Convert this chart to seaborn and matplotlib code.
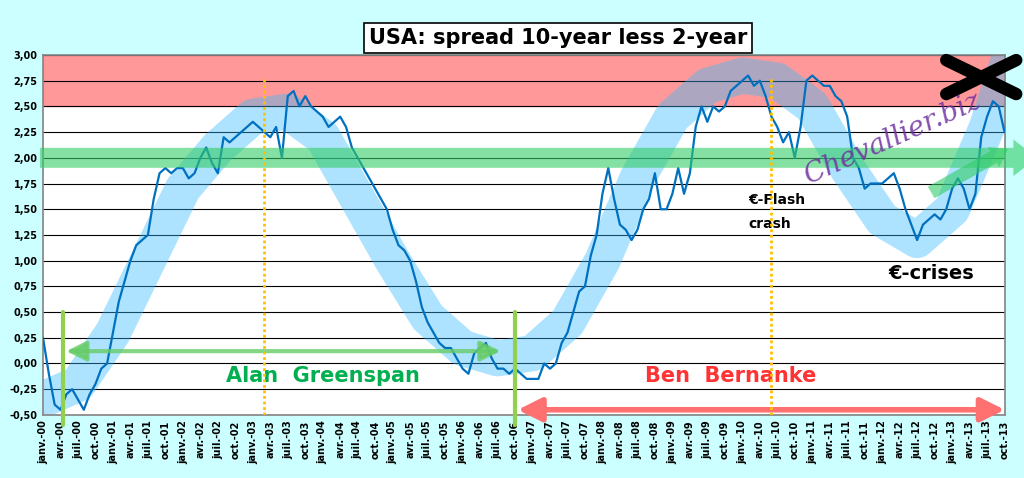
import numpy as np
import pandas as pd
import matplotlib.pyplot as plt
import seaborn as sns

# monthly spread values, janv. 2000 .. oct. 2013
spread = [
    0.25, -0.10, -0.40, -0.45, -0.30, -0.25, -0.35, -0.45, -0.30, -0.20, -0.05, 0.00,
    0.30, 0.60, 0.80, 1.00, 1.15, 1.20, 1.25, 1.60, 1.85, 1.90, 1.85, 1.90,
    1.90, 1.80, 1.85, 2.00, 2.10, 1.95, 1.85, 2.20, 2.15, 2.20, 2.25, 2.30,
    2.35, 2.30, 2.25, 2.20, 2.30, 2.00, 2.60, 2.65, 2.50, 2.60, 2.50, 2.45,
    2.40, 2.30, 2.35, 2.40, 2.30, 2.10, 2.00, 1.90, 1.80, 1.70, 1.60, 1.50,
    1.30, 1.15, 1.10, 1.00, 0.80, 0.55, 0.40, 0.30, 0.20, 0.15, 0.15, 0.05,
    -0.05, -0.10, 0.10, 0.15, 0.20, 0.05, -0.05, -0.05, -0.10, -0.05, -0.10, -0.15,
    -0.15, -0.15, 0.00, -0.05, 0.00, 0.20, 0.30, 0.50, 0.70, 0.75, 1.05, 1.25,
    1.65, 1.90, 1.60, 1.35, 1.30, 1.20, 1.30, 1.50, 1.60, 1.85, 1.50, 1.50,
    1.65, 1.90, 1.65, 1.85, 2.30, 2.50, 2.35, 2.50, 2.45, 2.50, 2.65, 2.70,
    2.75, 2.80, 2.70, 2.75, 2.60, 2.40, 2.30, 2.15, 2.25, 2.00, 2.30, 2.75,
    2.80, 2.75, 2.70, 2.70, 2.60, 2.55, 2.40, 2.00, 1.90, 1.70, 1.75, 1.75,
    1.75, 1.80, 1.85, 1.70, 1.50, 1.35, 1.20, 1.35, 1.40, 1.45, 1.40, 1.50,
    1.70, 1.80, 1.70, 1.50, 1.65, 2.20, 2.40, 2.55, 2.50, 2.25,
]
months = list(range(len(spread)))

# hand drawn sine-like trend band (month, value)
band_x = [0, 6, 12, 18, 24, 30, 36, 42, 48, 54, 60, 66, 72, 78, 84, 90, 96, 102,
          108, 114, 120, 126, 132, 138, 144, 150, 156, 162, 166]
band_y = [-0.35, -0.20, 0.30, 1.00, 1.70, 2.10, 2.40, 2.45, 2.20, 1.60, 1.00, 0.45,
          0.15, 0.05, 0.10, 0.40, 1.00, 1.80, 2.40, 2.70, 2.80, 2.75, 2.50, 1.90,
          1.40, 1.20, 1.50, 2.30, 3.00]

yr = ["00", "01", "02", "03", "04", "05", "06", "07", "08", "09", "10", "11", "12", "13"]
mo = ["janv.", "avr.", "juil.", "oct."]
tick_labels = [f"{m}-{y}" for y in yr for m in mo]

df = pd.DataFrame({"month": months, "spread": spread})

sns.set_theme(style="white")
plt.rcParams['font.family'] = ['DejaVu Sans']
plt.rcParams['text.color'] = 'black'

fig = plt.figure(figsize=(10.24, 4.78), dpi=100, facecolor="#ccffff")
ax = fig.add_axes([0.042, 0.132, 0.939, 0.753])
ax.set_facecolor("white")

ax.axhspan(2.5, 3.0, color="#ff8080", alpha=0.8, zorder=0)
for v in np.arange(-0.5, 3.01, 0.25):
    ax.axhline(v, color="black", lw=0.8, zorder=1)

ax.plot(band_x, band_y, color="#33bbff", lw=26, alpha=0.4, solid_capstyle="round",
        solid_joinstyle="round", zorder=2)
sns.lineplot(data=df, x="month", y="spread", ax=ax, color="#0070c0", lw=1.6, zorder=3)

# green horizontal arrow at 2.0
ax.annotate("", xy=(171, 2.0), xytext=(-1, 2.0), annotation_clip=False,
            arrowprops=dict(arrowstyle="simple,head_width=2.2,head_length=1.4,tail_width=1.2",
                            color="#33cc66", alpha=0.6, lw=0), zorder=4)
ax.annotate("", xy=(166, 2.1), xytext=(152, 1.65), annotation_clip=False,
            arrowprops=dict(arrowstyle="simple,head_width=1.4,head_length=1.0,tail_width=0.8",
                            color="#33cc66", alpha=0.6, lw=0), zorder=4)
# Greenspan / Bernanke arrows
ax.annotate("", xy=(3.5, 0.12), xytext=(79, 0.12),
            arrowprops=dict(arrowstyle="<|-|>,head_width=0.5,head_length=1.0", color="#66cc66",
                            lw=3, alpha=0.8), zorder=5)
ax.annotate("", xy=(81, -0.45), xytext=(165.5, -0.45), annotation_clip=False,
            arrowprops=dict(arrowstyle="<|-|>,head_width=0.6,head_length=1.2", color="#ff7070",
                            lw=4), zorder=5)
ax.plot([3.5, 3.5], [-0.6, 0.5], color="#92d050", lw=3, clip_on=False, zorder=5)
ax.plot([81, 81], [-0.6, 0.5], color="#92d050", lw=3, clip_on=False, zorder=5)
ax.axvline(38, ymax=0.94, color="#ffc000", lw=2, ls=(0, (1, 1)), zorder=5)
ax.axvline(125, ymax=0.94, color="#ffc000", lw=2, ls=(0, (1, 1)), zorder=5)

ax.text(48, -0.18, "Alan  Greenspan", color="#00b050", fontsize=15, fontweight="bold", ha="center")
ax.text(118, -0.18, "Ben  Bernanke", color="#ff3333", fontsize=15, fontweight="bold", ha="center")
ax.text(121, 1.55, "€-Flash", fontsize=10, fontweight="bold")
ax.text(121, 1.32, "crash", fontsize=10, fontweight="bold")
ax.text(145, 0.82, "€-crises", fontsize=14, fontweight="bold")
ax.text(130, 1.75, "Chevallier.biz", color="#7030a0", fontsize=20, style="italic",
        family="DejaVu Serif", rotation=24, alpha=0.85, zorder=6)
ax.plot([155, 167], [2.95, 2.62], color="black", lw=9, clip_on=False, zorder=7)
ax.plot([155, 167], [2.62, 2.95], color="black", lw=9, clip_on=False, zorder=7)

ax.set_xlim(0, 165)
ax.set_ylim(-0.5, 3.0)
ax.set_xticks(range(0, 166, 3))
ax.set_xticklabels(tick_labels, rotation=90, fontsize=7, fontweight="bold", color="black")
yt = np.arange(-0.5, 3.01, 0.25)
ax.set_yticks(yt)
ax.set_yticklabels([f"{v:.2f}".replace(".", ",") for v in yt], fontsize=7, fontweight="bold",
                   color="black")
ax.tick_params(length=3, pad=1)
ax.set_xlabel("")
ax.set_ylabel("")
for s in ax.spines.values():
    s.set_color("#888888")

fig.text(0.545, 0.92, "USA: spread 10-year less 2-year", ha="center", va="center",
         fontsize=15, fontweight="bold", color="black",
         bbox=dict(boxstyle="square,pad=0.25", fc="white", ec="black", lw=1.2))

fig.savefig("out.png", dpi=100, facecolor=fig.get_facecolor())
